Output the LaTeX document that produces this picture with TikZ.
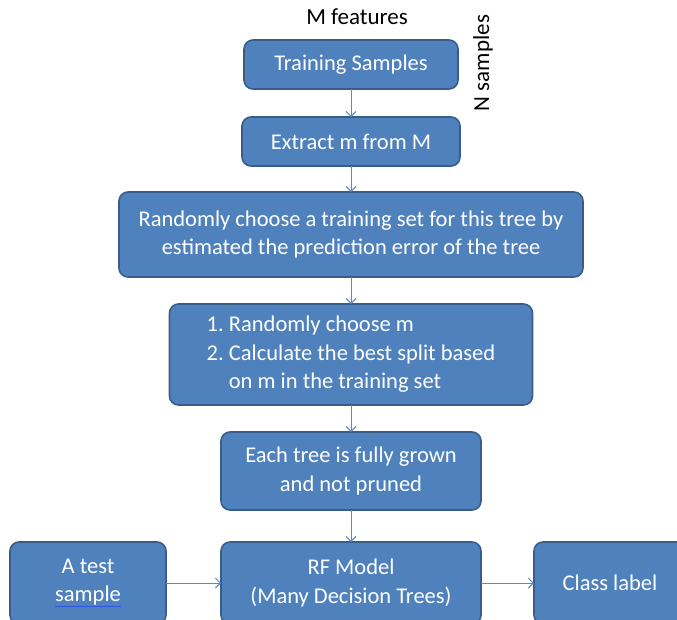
\documentclass[tikz,border=0pt]{standalone}
\usepackage{fontspec}
\setmainfont{Carlito}
\usetikzlibrary{positioning,arrows.meta}
\definecolor{boxfill}{HTML}{4F81BD}
\definecolor{boxline}{HTML}{385D8A}
\definecolor{arrowline}{HTML}{5A88C2}
\definecolor{spellblue}{HTML}{3355DD}

\begin{document}
\begin{tikzpicture}[
x=1pt, y=-1pt,
bluenode/.style={rectangle, rounded corners=9pt, draw=boxline, fill=boxfill, line width=1.6pt, outer sep=0pt, text=white, align=center, inner sep=0pt, font=\fontsize{22.5}{28.5}\selectfont},
flow/.style={draw=arrowline, line width=0.9pt, -{Straight Barb[length=5pt,width=10pt]}},
plaintext/.style={font=\fontsize{23}{26}\selectfont},
]
\path[use as bounding box, clip] (0,0) rectangle (677,619);

%Nodes
\node[bluenode, minimum width=214pt, minimum height=49pt] (train) at (351,64.5) {Training Samples};
\node[bluenode, minimum width=218pt, minimum height=49pt] (extract) [below=28pt of train] {Extract m from M};
\node[bluenode, minimum width=464pt, minimum height=85pt] (choose) [below=26pt of extract] {Randomly choose a training set for this tree by\\estimated the prediction error of the tree};
\node[bluenode, minimum width=363pt, minimum height=101pt, align=left] (split) [below=27pt of choose] {1.~Randomly choose m\\2.~Calculate the best split based\\\phantom{2.~}on m in the training set};
\node[bluenode, minimum width=260pt, minimum height=78pt] (grown) [below=27pt of split] {Each tree is fully grown\\and not pruned};
\node[bluenode, minimum width=260pt, minimum height=82pt] (rf) [below=32pt of grown] {RF Model\\(Many Decision Trees)};
\node[bluenode, minimum width=156pt, minimum height=82pt] (test) [left=55pt of rf] {A test\\{\color{spellblue}\underline{\color{white}sample}}};
\node[bluenode, minimum width=152pt, minimum height=82pt] (class) [right=53pt of rf] {Class label};

\node[plaintext] (mfeat) at (357,17) {M features};
\node[plaintext, rotate=90] (nsamp) at (483,63) {N samples};

%Lines
\draw[flow] (train) -- (extract);
\draw[flow] (extract) -- (choose);
\draw[flow] (choose) -- (split);
\draw[flow] (split) -- (grown);
\draw[flow] (grown) -- (rf);
\draw[flow] (test) -- (rf);
\draw[flow] (rf) -- (class);
\end{tikzpicture}
\end{document}
